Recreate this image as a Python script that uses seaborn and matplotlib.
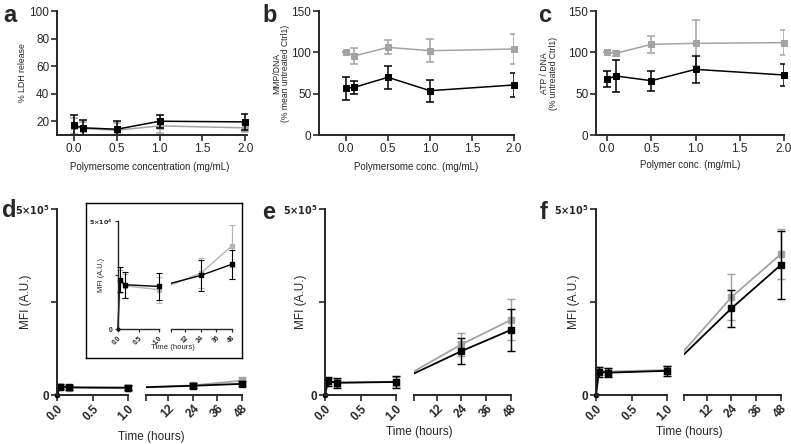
import numpy as np
import pandas as pd
import matplotlib
matplotlib.use('Agg')
import matplotlib.pyplot as plt
import seaborn as sns

sns.set_style('ticks')
plt.rcParams['font.family'] = ['Liberation Sans', 'DejaVu Sans']

### data ###
conc = [0.0, 0.1, 0.5, 1.0, 2.0]

ldh_black = [17.1, 15.2, 14.2, 20.0, 19.5]
ldh_black_sd = [7.7, 5.5, 6.0, 4.8, 5.8]
ldh_gray = [16.4, 14.7, 13.5, 16.6, 15.2]
ldh_gray_sd = [6.0, 5.0, 5.0, 5.0, 3.0]

mmp_black = [56.5, 57.7, 69.8, 53.6, 60.5]
mmp_black_sd = [14.0, 8.0, 14.0, 13.5, 14.5]
mmp_gray = [100.0, 95.6, 106.0, 102.0, 104.0]
mmp_gray_sd = [0.0, 10.0, 8.5, 14.0, 18.0]

atp_black = [67.7, 71.4, 65.7, 79.4, 72.6]
atp_black_sd = [10.0, 19.0, 12.0, 16.0, 13.0]
atp_gray = [100.0, 98.8, 109.7, 110.9, 111.7]
atp_gray_sd = [0.0, 3.0, 10.0, 28.0, 15.0]

time_h = [0.0, 0.04, 0.17, 1.0, 24.0, 48.0]

mfi_d_black = [0, 22.8e3, 20.5e3, 19.7e3, 24.8e3, 30.0e3]
mfi_d_black_sd = [0, 5.7e3, 6.0e3, 6.2e3, 7.3e3, 6.8e3]
mfi_d_gray = [0, 22.0e3, 20.0e3, 18.2e3, 25.9e3, 38.5e3]
mfi_d_gray_sd = [0, 5.5e3, 5.5e3, 6.0e3, 7.0e3, 9.7e3]

mfi_e_black = [0, 37e3, 33e3, 35e3, 118e3, 175e3]
mfi_e_black_sd = [0, 12e3, 13e3, 15e3, 34e3, 56e3]
mfi_e_gray = [0, 36e3, 33e3, 36e3, 136e3, 202e3]
mfi_e_gray_sd = [0, 11e3, 11e3, 12e3, 32e3, 55e3]

mfi_f_black = [0, 62e3, 60e3, 65e3, 233e3, 350e3]
mfi_f_black_sd = [0, 13e3, 12e3, 13e3, 49e3, 92e3]
mfi_f_gray = [0, 65e3, 63e3, 67e3, 263e3, 379e3]
mfi_f_gray_sd = [0, 10e3, 10e3, 10e3, 62e3, 66e3]

BLACK = '#000000'
GRAY = '#a3a3a3'

W, H = 791, 444
fig = plt.figure(figsize=(W / 100, H / 100), dpi=100)


def px_axes(l, t, r, b, **kw):
    return fig.add_axes([l / W, 1 - b / H, (r - l) / W, (b - t) / H], **kw)


def style(ax, lw=1.4, tl=4, fs=8.5, bold=False):
    sns.despine(ax=ax)
    for s in ['left', 'bottom']:
        ax.spines[s].set_linewidth(lw)
    ax.tick_params(width=lw * 0.85, length=tl, labelsize=fs, pad=1.5)
    if bold:
        for lab in ax.get_xticklabels() + ax.get_yticklabels():
            lab.set_fontweight('bold')


### top row ###
def top_panel(ax, black, black_sd, gray, gray_sd, ylim, yticks, xlim):
    for m, sd, c in [(gray, gray_sd, GRAY), (black, black_sd, BLACK)]:
        df = pd.DataFrame({'x': conc, 'y': m})
        sns.lineplot(data=df, x='x', y='y', ax=ax, color=c, lw=1.1,
                     marker='s', markersize=5, markeredgecolor=c, clip_on=False)
        ax.errorbar(conc, m, yerr=sd, fmt='none', ecolor=c, elinewidth=1.1,
                    capsize=3, capthick=1.1)
    ax.set_xlim(*xlim)
    ax.set_ylim(*ylim)
    ax.set_yticks(yticks)
    ax.set_xticks([0, 0.5, 1.0, 1.5, 2.0])
    ax.set_xticklabels(['0.0', '0.5', '1.0', '1.5', '2.0'])
    ax.set_xlabel('')
    ax.set_ylabel('')
    style(ax)


ax_a = px_axes(57, 11, 247, 135)
top_panel(ax_a, ldh_black, ldh_black_sd, ldh_gray, ldh_gray_sd,
          (10, 100), [20, 40, 60, 80, 100], (-0.2, 2.02))
ax_a.set_xlabel('Polymersome concentration (mg/mL)', fontsize=7)
ax_a.xaxis.set_label_coords(0.49, -0.22)
ax_a.set_ylabel('% LDH release', fontsize=6.3)
ax_a.yaxis.set_label_coords(-0.158, 0.5)

ax_b = px_axes(319, 11, 514, 135)
top_panel(ax_b, mmp_black, mmp_black_sd, mmp_gray, mmp_gray_sd,
          (0, 150), [0, 50, 100, 150], (-0.32, 2.0))
ax_b.set_xlabel('Polymersome conc. (mg/mL)', fontsize=7)
ax_b.xaxis.set_label_coords(0.5, -0.22)
ax_b.set_ylabel('MMP/DNA\n(% mean untreated Ctrl1)', fontsize=6.2, linespacing=1.0)
ax_b.yaxis.set_label_coords(-0.15, 0.5)

ax_c = px_axes(596, 11, 784, 135)
top_panel(ax_c, atp_black, atp_black_sd, atp_gray, atp_gray_sd,
          (0, 150), [0, 50, 100, 150], (-0.125, 2.0))
ax_c.set_xlabel('Polymer conc. (mg/mL)', fontsize=7)
ax_c.xaxis.set_label_coords(0.5, -0.205)
ax_c.set_ylabel('ATP / DNA\n(% untreated Ctrl1)', fontsize=6.2, linespacing=1.0)
ax_c.yaxis.set_label_coords(-0.20, 0.5)


### bottom row: broken time axis ###
def broken_panel(l, r_left, l_right, r, t, b, series, ymax, top_label,
                 fs=8.5, top_fs=7, lw=1.4, tl=4, ms=5, line_w=1.3, cap=3,
                 zorder=1, ylab_x=-0.3, ylab_fs=8.5):
    axl = px_axes(l, t, r_left, b, zorder=zorder)
    axr = px_axes(l_right, t, r, b, zorder=zorder)
    for ax in (axl, axr):
        ax.set_ylim(0, ymax)
        ax.patch.set_alpha(0)
    axl.set_xlim(0, 1.0)
    axr.set_xlim(1.0, 48)
    for m, sd, c in series:
        early = pd.DataFrame({'t': time_h[:4], 'm': m[:4]})
        sns.lineplot(data=early, x='t', y='m', ax=axl, color=c, lw=line_w,
                     clip_on=False)
        axl.plot(time_h[1:4], m[1:4], 's', color=c, ms=ms, clip_on=False)
        axl.plot(time_h[0], m[0], 'o', color=c, ms=ms * 0.6, clip_on=False)
        axl.errorbar(time_h[1:4], m[1:4], yerr=sd[1:4], fmt='none', ecolor=c,
                     elinewidth=line_w * 0.8, capsize=cap, capthick=line_w * 0.8,
                     clip_on=False)
        # line across the gap, drawn in screen space like the original
        disp = axl.transData.transform((time_h[3], m[3]))
        x0, y0 = axr.transData.inverted().transform(disp)
        late = pd.DataFrame({'t': [x0] + time_h[4:], 'm': [y0] + m[4:]})
        sns.lineplot(data=late, x='t', y='m', ax=axr, color=c, lw=line_w)
        axr.plot(time_h[4:], m[4:], 's', color=c, ms=ms, clip_on=False)
        axr.errorbar(time_h[4:], m[4:], yerr=sd[4:], fmt='none', ecolor=c,
                     elinewidth=line_w * 0.8, capsize=cap, capthick=line_w * 0.8,
                     clip_on=False)
    for ax in (axl, axr):
        ax.set_xlabel('')
        ax.set_ylabel('')
    axl.set_xticks([0, 0.5, 1.0])
    axl.set_xticklabels(['0.0', '0.5', '1.0'])
    axr.set_xticks([1.0, 12, 24, 36, 48])
    axr.set_xticklabels(['', '12', '24', '36', '48'])
    axl.set_yticks([0, ymax / 2, ymax])
    axl.set_yticklabels(['0', '', top_label])
    style(axl, lw=lw, tl=tl, fs=fs, bold=True)
    style(axr, lw=lw, tl=tl, fs=fs, bold=True)
    axr.spines['left'].set_visible(False)
    axr.tick_params(left=False, labelleft=False)
    for ax in (axl, axr):
        for lab in ax.get_xticklabels():
            lab.set_rotation(45)
            lab.set_ha('right')
            lab.set_rotation_mode('anchor')
    axl.get_yticklabels()[2].set_fontsize(top_fs)
    axl.set_ylabel('MFI (A.U.)', fontsize=ylab_fs)
    axl.yaxis.set_label_coords(ylab_x, 0.5)
    return axl, axr


ax_d = broken_panel(57, 128, 146, 242, 209, 395,
                    [(mfi_d_gray, mfi_d_gray_sd, GRAY), (mfi_d_black, mfi_d_black_sd, BLACK)],
                    5e5, r'$\mathbf{5{\times}10^5}$', ylab_x=-0.35)
fig.text(151 / W, 1 - 437 / H, 'Time (hours)', fontsize=8.5, ha='center', va='center')

ax_e = broken_panel(325, 396, 414, 511, 209, 395,
                    [(mfi_e_gray, mfi_e_gray_sd, GRAY), (mfi_e_black, mfi_e_black_sd, BLACK)],
                    5e5, r'$\mathbf{5{\times}10^5}$', ylab_x=-0.26)
fig.text(419 / W, 1 - 432 / H, 'Time (hours)', fontsize=8.5, ha='center', va='center')

ax_f = broken_panel(596, 667, 684, 781, 209, 395,
                    [(mfi_f_gray, mfi_f_gray_sd, GRAY), (mfi_f_black, mfi_f_black_sd, BLACK)],
                    5e5, r'$\mathbf{5{\times}10^5}$', ylab_x=-0.225)
fig.text(689 / W, 1 - 432 / H, 'Time (hours)', fontsize=8.5, ha='center', va='center')

# inset of d
frame = px_axes(86, 203, 242, 358, zorder=5)
frame.set_xticks([])
frame.set_yticks([])
for s in frame.spines.values():
    s.set_visible(True)
    s.set_linewidth(1.0)
    s.set_color('black')
frame.set_facecolor('white')

broken_panel(118, 159, 171, 232, 221, 329,
             [(mfi_d_gray, mfi_d_gray_sd, '#b5b5b5'), (mfi_d_black, mfi_d_black_sd, BLACK)],
             5e4, r'$\mathbf{5{\times}10^4}$', fs=4.8, top_fs=4.6, lw=1.0, tl=2.5,
             ms=3, line_w=1.0, cap=2, zorder=6, ylab_x=-0.31, ylab_fs=5.3)
fig.text(173 / W, 1 - 347 / H, 'Time (hours)', fontsize=5.6, ha='center', va='center',
         zorder=7)

# panel letters
for letter, x, y in [('a', 3, 16), ('b', 262, 16), ('c', 538, 16),
                     ('d', 2, 210), ('e', 262, 212), ('f', 540, 212)]:
    fig.text(x / W, 1 - y / H, letter, fontsize=17, fontweight='bold',
             ha='left', va='center')

fig.savefig('out.png', dpi=100)
